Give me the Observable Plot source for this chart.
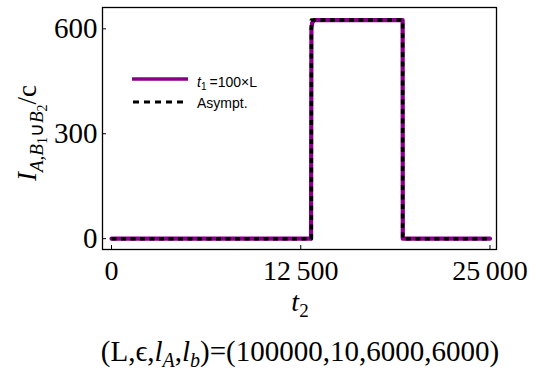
<!DOCTYPE html>
<html>
<head>
<meta charset="utf-8">
<script src="https://cdn.jsdelivr.net/npm/d3@7"></script>
<script src="https://cdn.jsdelivr.net/npm/@observablehq/plot@0.6"></script>
<style>
  html, body { margin: 0; padding: 0; background: white; }
  #chart svg { display: block; }
</style>
</head>
<body>
<div id="chart"></div>
<script>
// ---- data ----
const xTicks = [0, 12500, 25000];
const yTicks = [0, 300, 600];
// t1 = 100×L curve
const t2Purple = [0, 13180, 13205, 13260, 13400, 19230, 19240, 25000];
const iPurple  = [0, 0, 600, 618, 625, 625, 0, 0];
// Asymptotic curve
const t2Asym = [0, 13200, 13200, 19230, 19230, 25000];
const iAsym  = [0, 0, 625, 625, 0, 0];
const seriesNames = ["=100×L", "Asympt."];
const colors = ["#870087", "black"];

const purple = t2Purple.map((x, i) => ({x, y: iPurple[i]}));
const asym = t2Asym.map((x, i) => ({x, y: iAsym[i]}));

const W = 536, H = 371;
const mL = 102, mR = 40, mT = 7, mB = 122;
const frameW = W - mL - mR, frameH = H - mT - mB;
const fmt = d => d3.format(",")(d).replace(/,/g, "\u2009");

const chart = Plot.plot({
  width: W, height: H,
  marginLeft: mL, marginRight: mR, marginTop: mT, marginBottom: mB,
  x: {domain: [-595, 25430]},
  y: {domain: [-31, 661]},
  style: {fontFamily: "Liberation Serif", fontSize: "28px", color: "black", background: "white"},
  marks: [
    Plot.frame({stroke: "black", strokeWidth: 1.3}),
    Plot.tickX(xTicks, {x: d => d, insetTop: frameH - 4, stroke: "black", strokeWidth: 1}),
    Plot.tickY(yTicks, {y: d => d, insetRight: frameW - 4, stroke: "black", strokeWidth: 1}),
    Plot.axisX({ticks: xTicks, tickSize: 0, tickPadding: 11, tickFormat: fmt, label: null, fontSize: 28}),
    Plot.axisY({ticks: yTicks, tickSize: 0, tickPadding: 5, label: null, fontSize: 29}),
    Plot.line(purple, {x: "x", y: "y", stroke: colors[0], strokeWidth: 4.2}),
    Plot.line(asym, {x: "x", y: "y", stroke: colors[1], strokeWidth: 3.5, strokeDasharray: "5,4.5", strokeLinecap: "butt"})
  ]
});
document.getElementById("chart").appendChild(chart);

const svg = d3.select(chart);
const serif = "Liberation Serif";

// y-axis title
const yt = svg.append("text")
  .attr("transform", "translate(36,133) rotate(-90)")
  .attr("text-anchor", "middle")
  .attr("font-family", serif).attr("font-size", 27).attr("fill", "black");
yt.append("tspan").attr("font-style", "italic").text("I");
yt.append("tspan").attr("font-style", "italic").attr("font-size", 19).attr("dy", 7).text("A,B");
yt.append("tspan").attr("font-size", 14).attr("dy", 4).text("1");
yt.append("tspan").attr("font-size", 19).attr("dy", -4).text("\u222A");
yt.append("tspan").attr("font-style", "italic").attr("font-size", 19).text("B");
yt.append("tspan").attr("font-size", 14).attr("dy", 4).text("2");
yt.append("tspan").attr("dy", -11).text("/c");

// x-axis title
const xt = svg.append("text")
  .attr("x", 300).attr("y", 311).attr("text-anchor", "middle")
  .attr("font-family", serif).attr("font-size", 28).attr("fill", "black");
xt.append("tspan").attr("font-style", "italic").text("t");
xt.append("tspan").attr("font-size", 19).attr("dy", 6).text("2");

// caption
const cap = svg.append("text")
  .attr("x", 300).attr("y", 361).attr("text-anchor", "middle")
  .attr("font-family", serif).attr("font-size", 29).attr("fill", "black");
cap.append("tspan").text("(L,\u03F5,");
cap.append("tspan").attr("font-style", "italic").text("l");
cap.append("tspan").attr("font-style", "italic").attr("font-size", 20).attr("dy", 6).text("A");
cap.append("tspan").attr("dy", -6).text(",");
cap.append("tspan").attr("font-style", "italic").text("l");
cap.append("tspan").attr("font-style", "italic").attr("font-size", 20).attr("dy", 6).text("b");
cap.append("tspan").attr("dy", -6).text(")=(100000,10,6000,6000)");

// legend
const sans = "Liberation Sans";
svg.append("line").attr("x1", 132).attr("x2", 188).attr("y1", 79).attr("y2", 79)
  .attr("stroke", colors[0]).attr("stroke-width", 3.5);
const l1 = svg.append("text").attr("x", 197).attr("y", 87).attr("text-anchor", "start")
  .attr("font-family", sans).attr("font-size", 14).attr("fill", "black");
l1.append("tspan").attr("font-style", "italic").text("t");
l1.append("tspan").attr("font-size", 10).attr("dy", 3).text("1");
l1.append("tspan").attr("dy", -3).attr("dx", 3).text(seriesNames[0]);
svg.append("line").attr("x1", 133).attr("x2", 186).attr("y1", 102).attr("y2", 102)
  .attr("stroke", colors[1]).attr("stroke-width", 3).attr("stroke-dasharray", "6,5");
svg.append("text").attr("x", 197).attr("y", 108).attr("text-anchor", "start")
  .attr("font-family", sans).attr("font-size", 14).attr("fill", "black").text(seriesNames[1]);
</script>
</body>
</html>
